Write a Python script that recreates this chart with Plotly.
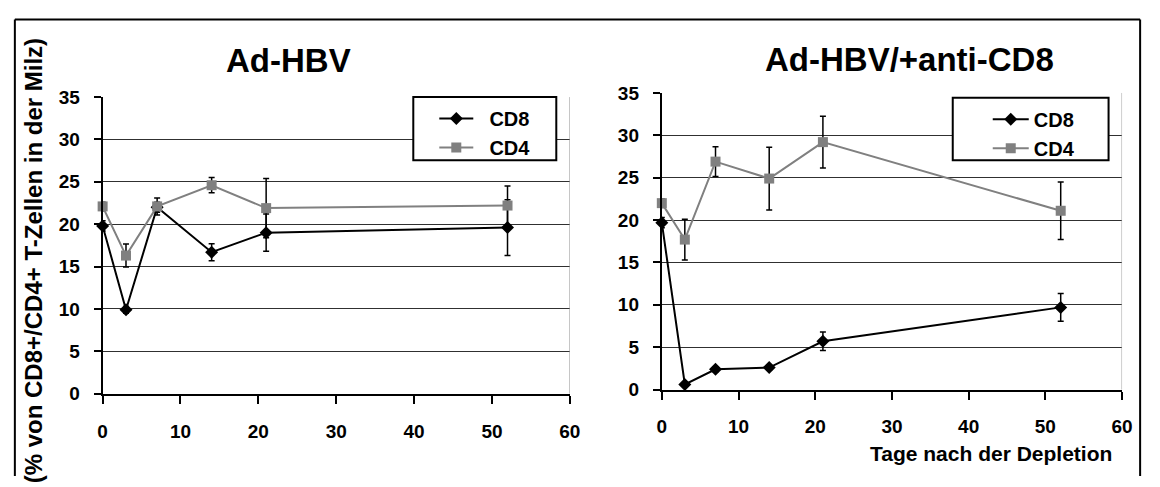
import plotly.graph_objects as go

W, H = 1160, 487

days = [0, 3, 7, 14, 21, 52]

# Left panel: Ad-HBV
left_cd8 = [19.8, 9.9, 22.0, 16.7, 19.0, 19.6]
left_cd8_err = [0.6, 0.4, 0.6, 1.0, 2.2, 3.3]
left_cd4 = [22.1, 16.3, 22.1, 24.6, 21.9, 22.2]
left_cd4_err = [0.5, 1.35, 1.0, 0.9, 3.5, 2.3]

# Right panel: Ad-HBV/+anti-CD8
right_cd8 = [19.7, 0.6, 2.4, 2.6, 5.7, 9.7]
right_cd8_err = [0.6, 0.2, 0.3, 0.3, 1.1, 1.65]
right_cd4 = [22.0, 17.7, 26.9, 24.9, 29.2, 21.1]
right_cd4_err = [0.5, 2.4, 1.75, 3.7, 3.05, 3.4]

titles = ["Ad-HBV", "Ad-HBV/+anti-CD8"]
series_names = ["CD8", "CD4"]
y_title = "(% von CD8+/CD4+ T-Zellen in der Milz)"
x_title = "Tage nach der Depletion"
x_ticks = [0, 10, 20, 30, 40, 50, 60]
y_ticks = [0, 5, 10, 15, 20, 25, 30, 35]

FONT = "Liberation Sans, Arial, sans-serif"
BLACK = "#000000"
GRAY = "#808080"
CLEAR = "rgba(0,0,0,0)"


def px_x(p):
    return p / W


def px_y(p):
    return 1 - p / H


fig = go.Figure()

panels = [
    dict(cd8=left_cd8, cd8e=left_cd8_err, cd4=left_cd4, cd4e=left_cd4_err,
         xa="x", ya="y", legend="legend", lead="&nbsp;&nbsp;"),
    dict(cd8=right_cd8, cd8e=right_cd8_err, cd4=right_cd4, cd4e=right_cd4_err,
         xa="x2", ya="y2", legend="legend2", lead=""),
]

for p in panels:
    fig.add_trace(go.Scatter(
        x=days, y=p["cd8"], name=p["lead"] + series_names[0],
        mode="lines+markers", xaxis=p["xa"], yaxis=p["ya"],
        line=dict(color=BLACK, width=2),
        marker=dict(symbol="diamond", size=10, color=BLACK),
        error_y=dict(type="data", array=p["cd8e"], visible=True,
                     color=BLACK, thickness=1.5, width=3),
        cliponaxis=False, legend=p["legend"],
    ))
    fig.add_trace(go.Scatter(
        x=days, y=p["cd4"], name=p["lead"] + series_names[1],
        mode="lines+markers", xaxis=p["xa"], yaxis=p["ya"],
        line=dict(color=GRAY, width=2),
        marker=dict(symbol="square", size=10, color=GRAY),
        error_y=dict(type="data", array=p["cd4e"], visible=True,
                     color=BLACK, thickness=1.5, width=3),
        cliponaxis=False, legend=p["legend"],
    ))

tickfont = dict(family=FONT, size=19, color=BLACK, weight="bold")

xcommon = dict(range=[0, 60], tickvals=x_ticks, ticks="outside", ticklen=8,
               tickwidth=2, tickcolor=BLACK, showline=True, linecolor=BLACK,
               linewidth=2, showgrid=False, zeroline=False, tickfont=tickfont,
               ticklabelstandoff=11)
ycommon = dict(range=[0, 35], tickvals=y_ticks, ticks="outside", ticklen=7,
               tickwidth=2, tickcolor=BLACK, showline=True, linecolor=BLACK,
               linewidth=2, showgrid=True, gridcolor="#303030", gridwidth=1,
               zeroline=False, tickfont=tickfont, ticklabelstandoff=10)

legfont = dict(family=FONT, size=20, color=BLACK, weight="bold")

fig.update_layout(
    width=W, height=H,
    margin=dict(l=0, r=0, t=0, b=0),
    paper_bgcolor="white", plot_bgcolor="white",
    xaxis=dict(domain=[px_x(99), px_x(572.7)], anchor="y", **xcommon),
    yaxis=dict(domain=[px_y(401), px_y(91)], anchor="x", **ycommon),
    xaxis2=dict(domain=[px_x(666), px_x(1132.7)], anchor="y2", **xcommon),
    yaxis2=dict(domain=[px_y(396.7), px_y(86.7)], anchor="x2", **ycommon),
    legend=dict(x=px_x(414), y=px_y(91), xanchor="left", yanchor="top",
                bgcolor=CLEAR, bordercolor=CLEAR, borderwidth=2,
                font=legfont, itemwidth=34, indentation=19, tracegroupgap=0),
    legend2=dict(x=px_x(961), y=px_y(91.7), xanchor="left", yanchor="top",
                 bgcolor=CLEAR, bordercolor=CLEAR, borderwidth=2,
                 font=legfont, itemwidth=36, indentation=33, tracegroupgap=0),
    showlegend=True,
)

# plot-area right border (gray) at x = 60
for xa, ya in (("x", "y"), ("x2", "y2")):
    fig.add_shape(type="line", xref=xa, yref=ya + " domain", x0=60, x1=60,
                  y0=0, y1=1, line=dict(color="#999999", width=1))

# legend frames (white boxes behind the legends)
for x0, x1, y0, y1 in ((414, 559, 91, 157), (961, 1119, 91.7, 157)):
    fig.add_shape(type="rect", xref="paper", yref="paper",
                  x0=px_x(x0), x1=px_x(x1), y0=px_y(y1), y1=px_y(y0),
                  line=dict(color=BLACK, width=2), fillcolor="white",
                  layer="above")

# outer frame: top, left and right edges (bottom edge lies outside the picture)
for x0, y0, x1, y1 in ((10, 10, 1151, 10), (10, 10, 10, 487), (1151, 10, 1151, 487)):
    fig.add_shape(type="line", xref="paper", yref="paper",
                  x0=px_x(x0), x1=px_x(x1), y0=px_y(y0), y1=px_y(y1),
                  line=dict(color=BLACK, width=2), layer="below")

annotations = [
    dict(text=titles[0], x=px_x(287), y=px_y(53), size=33),
    dict(text=titles[1], x=px_x(917), y=px_y(52), size=33),
    dict(text=x_title, x=px_x(1000), y=px_y(463), size=21),
]
for a in annotations:
    fig.add_annotation(xref="paper", yref="paper", x=a["x"], y=a["y"],
                       text=a["text"], showarrow=False, xanchor="center",
                       yanchor="middle",
                       font=dict(family=FONT, size=a["size"], color=BLACK,
                                 weight="bold"))
fig.add_annotation(xref="paper", yref="paper", x=px_x(29), y=px_y(262),
                   text=y_title, textangle=-90, showarrow=False,
                   xanchor="center", yanchor="middle",
                   font=dict(family=FONT, size=24, color=BLACK, weight="bold"))

fig.write_html("out.html")
